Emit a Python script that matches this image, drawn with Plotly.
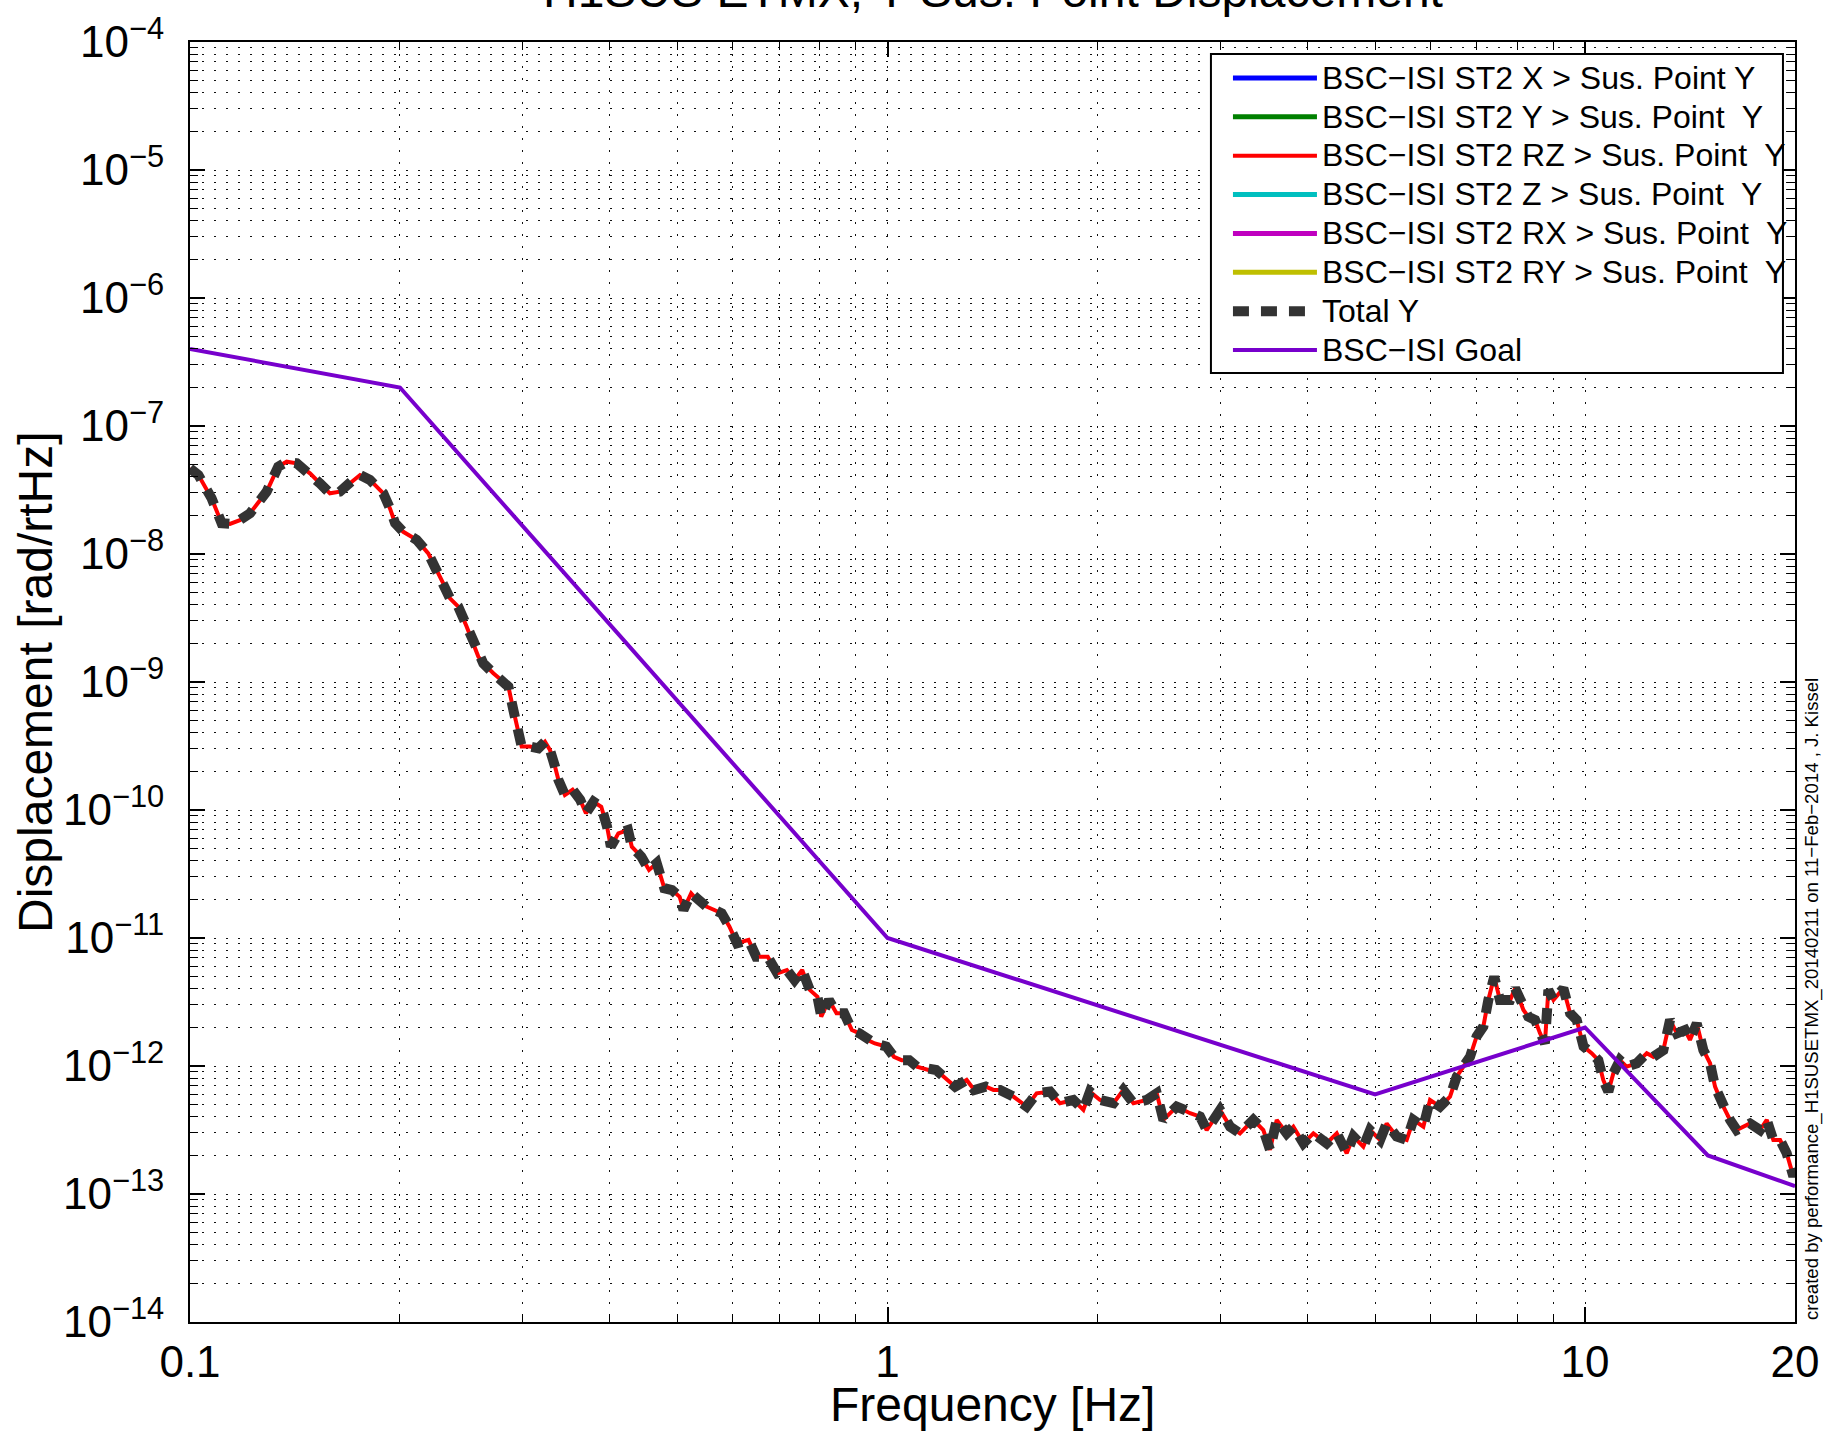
import math
import plotly.graph_objects as go

# ---------------- data ----------------
freq_hz = [
    0.1, 0.1028, 0.1074, 0.1110, 0.1141, 0.1179, 0.1219, 0.1288, 0.1338, 0.1376,
    0.1422, 0.1486, 0.1536, 0.1587, 0.1640, 0.1714, 0.1753, 0.1811, 0.1893, 0.1935,
    0.1968, 0.2022, 0.2113, 0.2196, 0.2258, 0.2307, 0.2359, 0.2424, 0.2492, 0.2534,
    0.2590, 0.2633, 0.2722, 0.2813, 0.2861, 0.2908, 0.2957, 0.2989, 0.3072, 0.3158,
    0.3228, 0.3282, 0.3337, 0.3374, 0.3447, 0.3536, 0.3626, 0.3695, 0.3790, 0.3887,
    0.3962, 0.4012, 0.4113, 0.4245, 0.4299, 0.4437, 0.4551, 0.4668, 0.4786, 0.4909,
    0.5035, 0.5099, 0.5230, 0.5363, 0.5500, 0.5641, 0.5785, 0.5933, 0.6085, 0.6321,
    0.6483, 0.6734, 0.6950, 0.7173, 0.7357, 0.7545, 0.7737, 0.7935, 0.8035, 0.8241,
    0.8451, 0.8668, 0.8890, 0.9117, 0.9350, 0.9590, 0.9961, 1.0215, 1.0476, 1.0744,
    1.1020, 1.1445, 1.1738, 1.2190, 1.2502, 1.2985, 1.3318, 1.3833, 1.4187, 1.450,
    1.515, 1.583, 1.636, 1.710, 1.767, 1.847, 1.909, 1.951, 2.017, 2.108,
    2.178, 2.252, 2.353, 2.432, 2.486, 2.598, 2.715, 2.806, 2.868, 2.998,
    3.098, 3.201, 3.345, 3.458, 3.535, 3.614, 3.735, 3.818, 3.947, 4.079,
    4.262, 4.406, 4.553, 4.655, 4.810, 4.918, 5.083, 5.195, 5.370, 5.550,
    5.674, 5.864, 5.995, 6.196, 6.404, 6.546, 6.692, 6.841, 6.992, 7.148,
    7.267, 7.41, 7.55, 7.81, 7.94, 8.16, 8.29, 8.48, 8.62, 8.76,
    8.86, 9.01, 9.31, 9.52, 9.73, 9.95, 10.22, 10.45, 10.62, 10.80,
    10.98, 11.22, 11.47, 11.86, 12.26, 12.53, 12.95, 13.24, 13.54, 13.91,
    14.14, 14.46, 14.78, 15.11, 15.36, 15.79, 16.14, 16.50, 17.24, 17.82,
    18.22, 18.62, 19.04, 19.46, 19.89, 20.0,
]

total_y = [
    4.67e-8, 4.14e-8, 2.72e-8, 1.74e-8, 1.72e-8, 1.84e-8, 2.08e-8, 3.07e-8, 4.81e-8, 5.26e-8,
    5.11e-8, 4.27e-8, 3.56e-8, 2.98e-8, 3.07e-8, 3.79e-8, 4.14e-8, 3.79e-8, 2.98e-8, 2.27e-8,
    1.74e-8, 1.49e-8, 1.29e-8, 1.01e-8, 7.50e-9, 5.90e-9, 4.50e-9, 3.88e-9, 2.71e-9, 2.13e-9,
    1.58e-9, 1.40e-9, 1.17e-9, 1.006e-9, 9.19e-10, 6.04e-10, 3.97e-10, 3.13e-10, 3.13e-10, 3.03e-10,
    3.42e-10, 2.94e-10, 2.18e-10, 1.72e-10, 1.31e-10, 1.44e-10, 1.20e-10, 9.42e-11, 1.16e-10, 1.06e-10,
    7.41e-11, 5.17e-11, 6.58e-11, 6.98e-11, 5.17e-11, 4.32e-11, 3.40e-11, 3.84e-11, 2.45e-11, 2.37e-11,
    2.10e-11, 1.66e-11, 2.23e-11, 1.92e-11, 1.76e-11, 1.66e-11, 1.56e-11, 1.23e-11, 9.10e-12, 9.66e-12,
    7.15e-12, 7.15e-12, 5.30e-12, 5.62e-12, 4.70e-12, 5.62e-12, 3.93e-12, 3.48e-12, 2.43e-12, 3.28e-12,
    2.58e-12, 2.58e-12, 1.91e-12, 1.80e-12, 1.60e-12, 1.50e-12, 1.42e-12, 1.18e-12, 1.11e-12, 1.11e-12,
    9.89e-13, 9.31e-13, 9.31e-13, 7.78e-13, 6.90e-13, 7.78e-13, 6.50e-13, 6.90e-13, 6.50e-13, 6.50e-13,
    5.77e-13, 4.82e-13, 6.12e-13, 6.31e-13, 5.12e-13, 5.43e-13, 4.54e-13, 6.31e-13, 5.43e-13, 5.12e-13,
    6.50e-13, 5.12e-13, 5.43e-13, 6.12e-13, 3.79e-13, 4.82e-13, 4.28e-13, 4.03e-13, 3.16e-13, 4.54e-13,
    3.36e-13, 2.98e-13, 3.79e-13, 3.16e-13, 2.21e-13, 3.79e-13, 2.98e-13, 3.36e-13, 2.49e-13, 2.98e-13,
    2.49e-13, 2.98e-13, 2.08e-13, 2.81e-13, 2.34e-13, 3.16e-13, 2.64e-13, 3.56e-13, 2.81e-13, 2.64e-13,
    3.79e-13, 3.36e-13, 5.43e-13, 4.82e-13, 5.77e-13, 8.26e-13, 9.89e-13, 1.18e-12, 1.70e-12, 2.03e-12,
    3.28e-12, 4.99e-12, 3.28e-12, 3.28e-12, 4.04e-12, 2.74e-12, 2.43e-12, 2.29e-12, 1.80e-12, 1.50e-12,
    3.93e-12, 3.28e-12, 4.04e-12, 2.58e-12, 2.29e-12, 1.42e-12, 1.26e-12, 1.11e-12, 7.78e-13, 6.31e-13,
    8.77e-13, 1.11e-12, 9.89e-13, 1.05e-12, 1.26e-12, 1.18e-12, 1.33e-12, 2.29e-12, 1.80e-12, 1.91e-12,
    1.60e-12, 2.15e-12, 1.33e-12, 1.05e-12, 6.90e-13, 4.81e-13, 3.79e-13, 3.16e-13, 3.56e-13, 3.16e-13,
    3.79e-13, 2.64e-13, 2.64e-13, 2.08e-13, 1.37e-13, 1.54e-13,
]

# RZ contribution dominates the total: it follows the same curve
rz_y = list(total_y)

goal_freq = [0.1, 0.2, 1.0, 5.0, 10.0, 15.0, 20.0]
goal_disp = [4.0e-7, 2.0e-7, 1.0e-11, 6.0e-13, 2.0e-12, 2.0e-13, 1.15e-13]

x_tick_vals = [0.1, 1, 10, 20]
x_tick_text = ["0.1", "1", "10", "20"]
y_exponents = [-14, -13, -12, -11, -10, -9, -8, -7, -6, -5, -4]

legend_names = [
    "BSC\u2212ISI ST2 X > Sus. Point Y",
    "BSC\u2212ISI ST2 Y > Sus. Point\u00a0 Y",
    "BSC\u2212ISI ST2 RZ > Sus. Point\u00a0 Y",
    "BSC\u2212ISI ST2 Z > Sus. Point\u00a0 Y",
    "BSC\u2212ISI ST2 RX > Sus. Point\u00a0 Y",
    "BSC\u2212ISI ST2 RY > Sus. Point\u00a0 Y",
    "Total Y",
    "BSC\u2212ISI Goal",
]
colors = ["#0000FF", "#008000", "#FF0000", "#00BFBF", "#BF00BF", "#BFBF00", "#333333", "#7700CC"]

FONT = "Liberation Sans, Arial, Helvetica, sans-serif"


def legend_label(name):
    return '<span style="font-size:32px">%s</span>' % name


# ---------------- figure ----------------
fig = go.Figure()

# contributions that stay below the plotted range (legend entries only)
for i in [0, 1]:
    fig.add_trace(go.Scatter(x=[freq_hz[0]], y=[None], mode="lines", name=legend_label(legend_names[i]),
                             line=dict(color=colors[i], width=5)))
fig.add_trace(go.Scatter(x=freq_hz, y=rz_y, mode="lines", name=legend_label(legend_names[2]),
                         line=dict(color=colors[2], width=4)))
for i in [3, 4, 5]:
    fig.add_trace(go.Scatter(x=[freq_hz[0]], y=[None], mode="lines", name=legend_label(legend_names[i]),
                             line=dict(color=colors[i], width=5)))
fig.add_trace(go.Scatter(x=freq_hz, y=total_y, mode="lines", name=legend_label(legend_names[6]),
                         line=dict(color=colors[6], width=10, dash="16px,12px")))
fig.add_trace(go.Scatter(x=goal_freq, y=goal_disp, mode="lines", name=legend_label(legend_names[7]),
                         line=dict(color=colors[7], width=4)))

y_tick_vals = [10.0 ** e for e in y_exponents]
y_tick_text = ["10<sup>\u2212%d</sup>" % (-e) for e in y_exponents]
y_minor = [m * 10.0 ** e for e in y_exponents[:-1] for m in range(2, 10)]
x_minor = [m * 10.0 ** e for e in (-1, 0) for m in range(2, 10)]

grid_style = dict(showgrid=True, gridcolor="#111111", gridwidth=1, griddash="2px,10px")

fig.update_xaxes(
    type="log", range=[-1, math.log10(20)],
    tickmode="array", tickvals=x_tick_vals, ticktext=x_tick_text,
    ticks="inside", ticklen=15, tickwidth=1.5, tickcolor="black",
    showline=True, linecolor="black", linewidth=2, mirror="ticks",
    zeroline=False, tickfont=dict(size=44, color="black", family=FONT),
    ticklabelstandoff=0,
    minor=dict(tickmode="array", tickvals=x_minor, ticks="inside", ticklen=8, tickwidth=1,
               tickcolor="black", **grid_style),
    **grid_style,
)
fig.update_yaxes(
    type="log", range=[-14, -4],
    tickmode="array", tickvals=y_tick_vals, ticktext=y_tick_text,
    ticks="inside", ticklen=15, tickwidth=1.5, tickcolor="black",
    showline=True, linecolor="black", linewidth=2, mirror="ticks",
    zeroline=False, tickfont=dict(size=44, color="black", family=FONT),
    ticklabelstandoff=15,
    minor=dict(tickmode="array", tickvals=y_minor, ticks="inside", ticklen=8, tickwidth=1,
               tickcolor="black", **grid_style),
    **grid_style,
)

# legend frame (text may overflow it, as in the original)
fig.add_shape(type="rect", xref="paper", yref="paper",
              x0=0.6361, x1=0.9925, y0=0.7414, y1=0.9906,
              line=dict(color="black", width=2), fillcolor="white", layer="above")

fig.update_layout(
    width=1839, height=1435,
    margin=dict(l=190, r=44, t=42, b=113, autoexpand=False),
    paper_bgcolor="white", plot_bgcolor="white",
    font=dict(family=FONT, color="black"),
    showlegend=True,
    legend=dict(x=0.6467, y=0.991, xanchor="left", yanchor="top",
                bgcolor="rgba(0,0,0,0)", borderwidth=0,
                font=dict(size=27.6, color="black", family=FONT), itemwidth=84,
                tracegroupgap=0),
    annotations=[
        dict(text="H1SUS ETMX, Y Sus. Point Displacement", xref="paper", yref="paper",
             x=0.5, y=1.040, xanchor="center", yanchor="middle", showarrow=False,
             font=dict(size=48, color="black", family=FONT)),
        dict(text="Frequency [Hz]", xref="paper", yref="paper",
             x=0.5, y=-0.0648, xanchor="center", yanchor="middle", showarrow=False,
             font=dict(size=48, color="black", family=FONT)),
        dict(text="Displacement [rad/rtHz]", xref="paper", yref="paper",
             x=-0.0966, y=0.5, xanchor="center", yanchor="middle", textangle=-90, showarrow=False,
             font=dict(size=48, color="black", family=FONT)),
        dict(text="created by performance_H1SUSETMX_20140211 on 11\u2212Feb\u22122014 , J. Kissel",
             xref="paper", yref="paper", x=1.0106, y=0.0, xanchor="center", yanchor="bottom",
             textangle=-90, showarrow=False, font=dict(size=18.6, color="black", family=FONT)),
    ],
)

fig.write_html("out.html", config={"displayModeBar": False},
               post_script="document.body.style.margin='0';")
